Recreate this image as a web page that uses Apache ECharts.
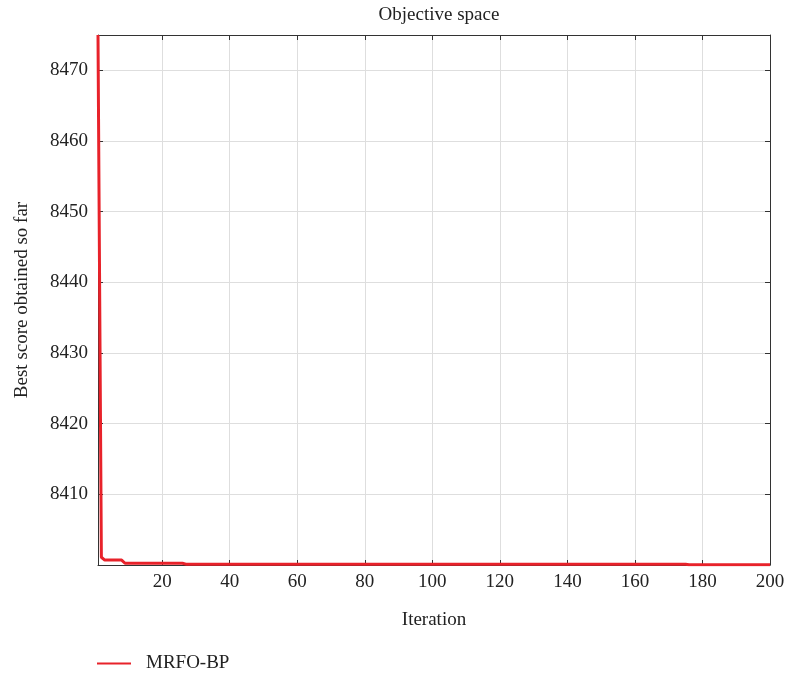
<!DOCTYPE html>
<html>
<head>
<meta charset="utf-8">
<script src="https://cdn.jsdelivr.net/npm/echarts@6/dist/echarts.min.js"></script>
<style>
  html, body { margin: 0; padding: 0; background: #fff; }
  #chart { width: 788px; height: 678px; }
</style>
</head>
<body>
<div id="chart"></div>
<script>
// Convergence curve: best score after each iteration (plateau start/end points)
const iterations = [1, 2, 3, 8, 9, 26, 27, 175, 176, 200];
const bestScores = [8475, 8401.1, 8400.7, 8400.7, 8400.25, 8400.25, 8400.12, 8400.12, 8400.03, 8400.03];

const xTicks = [20, 40, 60, 80, 100, 120, 140, 160, 180, 200];
const yTicks = [8410, 8420, 8430, 8440, 8450, 8460, 8470];

const seriesName = 'MRFO-BP';
const FONT = 'Liberation Serif';
const TXT = '#222';
const plain = v => String(v);

const curve = iterations.map((it, i) => [it, bestScores[i]]);

const chart = echarts.init(document.getElementById('chart'), null, { renderer: 'canvas' });

const frameLine = { show: true, lineStyle: { color: '#333', width: 1 } };

chart.setOption({
  animation: false,
  backgroundColor: '#fff',
  title: {
    text: 'Objective space',
    left: 434, top: 1, textAlign: 'center',
    textStyle: { fontFamily: FONT, fontSize: 19, fontWeight: 'normal', color: TXT }
  },
  legend: {
    left: 97, top: 654, padding: 0,
    itemWidth: 34, itemHeight: 2, itemGap: 10,
    icon: 'rect',
    textStyle: { fontFamily: FONT, fontSize: 19, color: TXT, padding: [0, 0, 0, 10] },
    data: [seriesName]
  },
  grid: { left: 98, right: 18, top: 35, bottom: 113, containLabel: false },
  xAxis: [
    {
      type: 'value', min: 1, max: 200, position: 'bottom',
      name: 'Iteration', nameLocation: 'middle', nameGap: 46,
      nameTextStyle: { fontFamily: FONT, fontSize: 19, color: TXT },
      axisLine: frameLine,
      axisTick: { show: true, inside: true, length: 5, customValues: xTicks, lineStyle: { color: '#333' } },
      axisLabel: { customValues: xTicks, formatter: plain, fontFamily: FONT, fontSize: 19, color: TXT, margin: 8 },
      splitLine: { show: true, lineStyle: { color: '#dedede', width: 1 } }
    },
    {
      type: 'value', min: 1, max: 200, position: 'top',
      axisLine: frameLine,
      axisTick: { show: true, inside: true, length: 5, customValues: xTicks, lineStyle: { color: '#333' } },
      axisLabel: { show: false },
      splitLine: { show: false }
    }
  ],
  yAxis: [
    {
      type: 'value', min: 8400, max: 8475, position: 'left',
      name: 'Best score obtained so far', nameLocation: 'middle', nameGap: 66,
      nameTextStyle: { fontFamily: FONT, fontSize: 19, color: TXT },
      axisLine: frameLine,
      axisTick: { show: true, inside: true, length: 5, customValues: yTicks, lineStyle: { color: '#333' } },
      axisLabel: { customValues: yTicks, formatter: plain, fontFamily: FONT, fontSize: 19, color: TXT, margin: 10 },
      splitLine: { show: true, lineStyle: { color: '#dedede', width: 1 } }
    },
    {
      type: 'value', min: 8400, max: 8475, position: 'right',
      axisLine: frameLine,
      axisTick: { show: true, inside: true, length: 5, customValues: yTicks, lineStyle: { color: '#333' } },
      axisLabel: { show: false },
      splitLine: { show: false }
    }
  ],
  series: [
    {
      name: seriesName,
      type: 'line',
      xAxisIndex: 0, yAxisIndex: 0,
      data: curve,
      showSymbol: false, symbol: 'none',
      color: '#e8222a',
      lineStyle: { color: '#e8222a', width: 3 },
      clip: true,
      z: 5
    }
  ]
});
</script>
</body>
</html>
